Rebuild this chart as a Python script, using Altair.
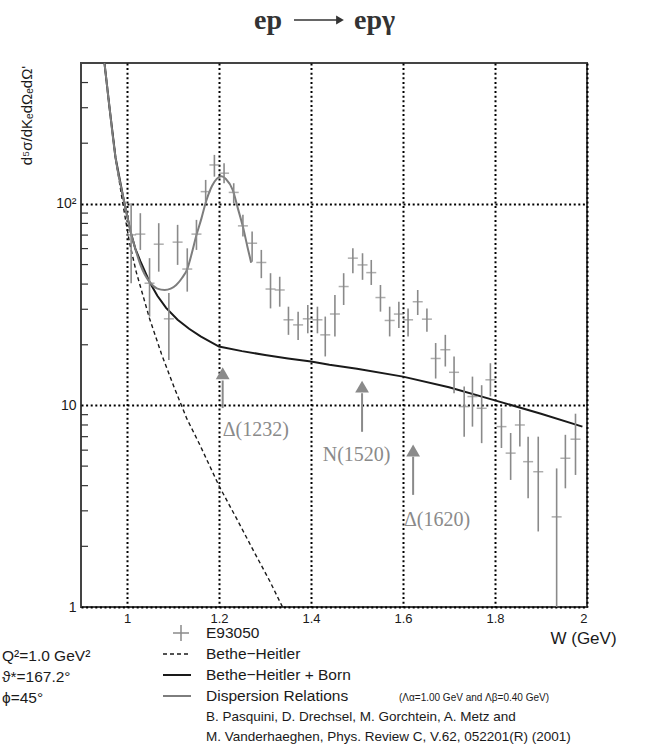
import altair as alt
import pandas as pd

# ---------------- data ----------------
W = [1.009, 1.029, 1.049, 1.069, 1.091, 1.110, 1.131, 1.151, 1.171, 1.190,
     1.211, 1.232, 1.252, 1.272, 1.292, 1.312, 1.332, 1.351, 1.372, 1.393,
     1.414, 1.431, 1.452, 1.471, 1.491, 1.512, 1.531, 1.551, 1.571, 1.591,
     1.611, 1.632, 1.652, 1.671, 1.692, 1.711, 1.733, 1.751, 1.771, 1.790,
     1.814, 1.834, 1.854, 1.872, 1.894, 1.934, 1.953, 1.975]
Y = [70.2, 70.8, 40.4, 63.1, 26.9, 64.6, 47.5, 70.8, 115, 156,
     142, 114, 77.8, 63.8, 51.2, 37.8, 37.4, 26.6, 25.1, 26.9,
     26.6, 22.4, 28.4, 38.9, 53.8, 49.8, 45.6, 34.3, 26.4, 28.4,
     26.6, 32.7, 26.8, 17.1, 18.9, 14.6, 9.87, 11.07, 9.68, 13.4,
     7.85, 5.8, 8.0, 5.26, 4.69, 2.8, 5.47, 6.8]
Y_LO = [40.4, 59.1, 27.6, 46.1, 16.8, 49.8, 36.7, 59.1, 100.8, 136.5,
        126.6, 100.8, 68.9, 51.7, 42.8, 30.3, 30.9, 22.4, 21.1, 22.8,
        22.8, 17.5, 22.0, 31.5, 45.3, 42.0, 39.6, 29.2, 22.0, 24.2,
        22.0, 28.1, 23.2, 13.6, 15.6, 11.5, 7.0, 7.85, 6.5, 11.1,
        6.15, 4.27, 6.25, 3.46, 2.37, 1.0, 3.88, 4.52]
Y_HI = [100.8, 89.9, 53.8, 80.2, 36.1, 78.7, 60.2, 83.3, 131.5, 175,
        159, 126.6, 88.2, 72.9, 59.1, 45.3, 43.5, 30.9, 29.2, 31.5,
        30.9, 27.6, 35.3, 45.3, 60.2, 56.9, 52.7, 39.6, 30.9, 32.7,
        30.3, 37.4, 30.3, 20.4, 22.4, 17.5, 12.4, 13.9, 12.6, 16.2,
        9.7, 7.3, 9.5, 7.0, 7.0, 4.87, 7.15, 9.1]

BH_W = [0.951, 0.962, 0.975, 0.991, 1.005, 1.02, 1.049, 1.075, 1.103, 1.13,
        1.158, 1.18, 1.201, 1.24, 1.274, 1.31, 1.338]
BH_Y = [500, 300, 170, 100, 65, 46, 27, 18, 12.2, 8.6,
        6.4, 5.0, 3.95, 2.7, 1.92, 1.35, 1.0]

BORN_W = [0.951, 0.962, 0.975, 0.991, 1.0, 1.009, 1.018, 1.029, 1.049, 1.066,
          1.085, 1.11, 1.135, 1.16, 1.2, 1.25, 1.3, 1.35, 1.4, 1.44,
          1.5, 1.6, 1.7, 1.8, 1.9, 1.99]
BORN_Y = [500, 300, 170, 110, 88, 71, 60, 52, 41, 35,
          30.5, 26.6, 24, 22, 19.6, 18.6, 17.8, 17.1, 16.5, 15.9,
          15.2, 13.9, 12.3, 10.6, 9.1, 7.85]

DR_W = [0.951, 0.962, 0.975, 0.991, 1.0, 1.009, 1.018, 1.029, 1.049, 1.066,
        1.082, 1.095, 1.107, 1.12, 1.131, 1.141, 1.151, 1.162, 1.172, 1.185,
        1.195, 1.205, 1.215, 1.23, 1.241, 1.252, 1.262, 1.27]
DR_Y = [500, 300, 170, 110, 88, 71, 60, 50, 41, 38,
        37.4, 38, 39.6, 43, 47.5, 57, 70, 85, 103, 123,
        133, 137, 133, 117, 95, 77, 61, 51]

RES_NAMES = ["Δ(1232)", "N(1520)", "Δ(1620)"]
RES_W = [1.208, 1.511, 1.622]
RES_HEAD = [14.45, 12.4, 5.98]
RES_STEM_TOP = [13.3, 11.5, 5.57]
RES_STEM_BOT = [9.7, 7.4, 3.6]
RES_LABEL_W = [1.208, 1.4255, 1.602]
RES_LABEL_Y = [7.55, 5.68, 2.71]

X_TICKS = [1, 1.2, 1.4, 1.6, 1.8, 2]
Y_TICKS = [1, 10, 100]
Y_MINOR = [2, 3, 4, 5, 6, 7, 8, 9, 20, 30, 40, 50, 60, 70, 80, 90, 200, 300, 400]

TITLE_LEFT = "ep"
TITLE_RIGHT = "epγ"
X_TITLE = "W (GeV)"
Y_TITLE = "d⁵σ/dKₑdΩₑdΩ'"
LEGEND_LABELS = ["E93050", "Bethe−Heitler", "Bethe−Heitler + Born", "Dispersion Relations"]
LEGEND_NOTE = "(Λα=1.00 GeV and Λβ=0.40 GeV)"
PARAMS = ["Q²=1.0 GeV²", "ϑ*=167.2°", "ϕ=45°"]
CITATION = ["B. Pasquini, D. Drechsel, M. Gorchtein, A. Metz and",
            "M. Vanderhaeghen, Phys. Review C, V.62, 052201(R) (2001)"]

# ---------------- styling ----------------
SANS = "Liberation Sans"
SERIF = "Liberation Serif"
GRAY = "#8a8a8a"
BLACK = "#1a1a1a"

xscale = alt.Scale(domain=[0.9, 2.0], nice=False, zero=False)
yscale = alt.Scale(type="log", domain=[1, 500], nice=False)

xaxis = alt.Axis(values=X_TICKS, format="~g", title=X_TITLE, grid=True,
                 gridDash=[2, 2.6], gridColor="#000", gridWidth=2, gridOpacity=1,
                 domain=False, tickSize=0, labelPadding=5,
                 labelFont=SANS, labelFontSize=13, labelColor=BLACK,
                 titleFont=SANS, titleFontSize=17, titleFontWeight="normal",
                 titleColor=BLACK, titleX=502, titleY=31, titleBaseline="middle")
yaxis = alt.Axis(values=Y_TICKS, title=Y_TITLE, grid=True,
                 gridDash=[2, 2.6], gridColor="#000", gridWidth=2, gridOpacity=1,
                 domain=False, tickSize=0, labelPadding=5,
                 labelExpr="datum.value >= 100 ? '10²' : (datum.value >= 10 ? '10' : '1')",
                 labelFont=SANS, labelFontSize=14, labelColor=BLACK,
                 titleFont=SANS, titleFontSize=15, titleFontWeight="normal",
                 titleColor=BLACK, titleX=-55, titleY=52, titleAngle=270,
                 titleAlign="center", titleBaseline="middle")


def X(field="w"):
    return alt.X(f"{field}:Q", scale=xscale, axis=xaxis)


def Yenc(field="y"):
    return alt.Y(f"{field}:Q", scale=yscale, axis=yaxis)


df_data = pd.DataFrame({"w": W, "y": Y, "lo": Y_LO, "hi": Y_HI})
df_bh = pd.DataFrame({"w": BH_W, "y": BH_Y})
df_born = pd.DataFrame({"w": BORN_W, "y": BORN_Y})
df_dr = pd.DataFrame({"w": DR_W, "y": DR_Y})
df_res = pd.DataFrame({"w": RES_W, "y": RES_HEAD, "top": RES_STEM_TOP,
                       "bot": RES_STEM_BOT})
df_reslab = pd.DataFrame({"w": RES_LABEL_W, "y": RES_LABEL_Y, "name": RES_NAMES})
df_minor = pd.DataFrame({"y": Y_MINOR})
dummy = pd.DataFrame({"k": [0]})

layers = []

# minor ticks on the left frame (inside)
layers.append(alt.Chart(df_minor).mark_rule(color="#333", strokeWidth=1.2).encode(
    y=Yenc(), x=alt.value(0), x2=alt.value(7)))

# curves
layers.append(alt.Chart(df_bh).mark_line(color=BLACK, strokeWidth=1.4,
                                         strokeDash=[4, 3], clip=True).encode(x=X(), y=Yenc()))
layers.append(alt.Chart(df_born).mark_line(color=BLACK, strokeWidth=2, clip=True).encode(
    x=X(), y=Yenc()))
layers.append(alt.Chart(df_dr).mark_line(color="#7d7d7d", strokeWidth=2,
                                         interpolate="monotone", clip=True).encode(
    x=X(), y=Yenc()))

# data error bars
layers.append(alt.Chart(df_data).mark_rule(color=GRAY, strokeWidth=1.6, clip=True).encode(
    x=X(), y=alt.Y("lo:Q", scale=yscale, axis=yaxis), y2="hi:Q"))
layers.append(alt.Chart(df_data).mark_tick(color=GRAY, orient="horizontal", size=10,
                                           thickness=1.5).encode(x=X(), y=Yenc()))

# resonance arrows
layers.append(alt.Chart(df_res).mark_rule(color=GRAY, strokeWidth=2).encode(
    x=X(), y=alt.Y("top:Q", scale=yscale, axis=yaxis), y2="bot:Q"))
layers.append(alt.Chart(df_res).mark_point(shape="triangle-up", filled=True, color=GRAY,
                                           size=190, opacity=1).encode(x=X(), y=Yenc()))
layers.append(alt.Chart(df_reslab).mark_text(font=SERIF, fontSize=20, color=GRAY,
                                             align="left", baseline="middle").encode(
    x=X(), y=Yenc(), text="name:N"))


def label(text, x, y, size, font=SANS, color=BLACK, align="left", weight="normal"):
    return alt.Chart(dummy).mark_text(text=text, font=font, fontSize=size, color=color,
                                      align=align, baseline="alphabetic",
                                      fontWeight=weight).encode(
        x=alt.value(x), y=alt.value(y))


# title (ep -> ep gamma)
layers.append(label(TITLE_LEFT, 201, -34, 28, font=SERIF, color="#333", align="right",
                    weight="bold"))
layers.append(label(TITLE_RIGHT, 273, -34, 28, font=SERIF, color="#333", align="left",
                    weight="bold"))
layers.append(alt.Chart(dummy).mark_rule(color="#333", strokeWidth=1.6).encode(
    x=alt.value(213), x2=alt.value(256), y=alt.value(-43)))
layers.append(alt.Chart(dummy).mark_point(shape="triangle-right", filled=True,
                                          color="#333", size=80, opacity=1).encode(
    x=alt.value(259), y=alt.value(-43)))

# legend block (positions relative to plot origin)
ROWS = [575, 596, 617, 638, 658, 678]
# E93050 cross symbol
layers.append(alt.Chart(dummy).mark_rule(color=GRAY, strokeWidth=1.5).encode(
    x=alt.value(100), y=alt.value(ROWS[0] - 13), y2=alt.value(ROWS[0] + 3)))
layers.append(alt.Chart(dummy).mark_rule(color=GRAY, strokeWidth=1.5).encode(
    x=alt.value(92), x2=alt.value(108), y=alt.value(ROWS[0] - 5)))
layers.append(alt.Chart(dummy).mark_rule(color=BLACK, strokeWidth=1.4, strokeDash=[4, 3]).encode(
    x=alt.value(82), x2=alt.value(110), y=alt.value(ROWS[1] - 5)))
layers.append(alt.Chart(dummy).mark_rule(color=BLACK, strokeWidth=2).encode(
    x=alt.value(82), x2=alt.value(110), y=alt.value(ROWS[2] - 5)))
layers.append(alt.Chart(dummy).mark_rule(color="#7d7d7d", strokeWidth=2).encode(
    x=alt.value(82), x2=alt.value(110), y=alt.value(ROWS[3] - 5)))
for i, txt in enumerate(LEGEND_LABELS):
    layers.append(label(txt, 125, ROWS[i], 15.5))
layers.append(label(LEGEND_NOTE, 318, ROWS[3], 10))
layers.append(label(CITATION[0], 125, ROWS[4], 13.5))
layers.append(label(CITATION[1], 125, ROWS[5], 13.5))
for i, txt in enumerate(PARAMS):
    layers.append(label(txt, -79, ROWS[i + 1] + 2, 15.5))

chart = alt.layer(*layers).properties(
    width=506, height=544,
    autosize=alt.AutoSizeParams(type="none"),
    padding={"left": 81, "top": 63, "right": 58, "bottom": 145},
    background="white",
).configure_view(stroke="#444", strokeWidth=2)

chart.save("out.html", embed_options={"renderer": "svg", "actions": False})
